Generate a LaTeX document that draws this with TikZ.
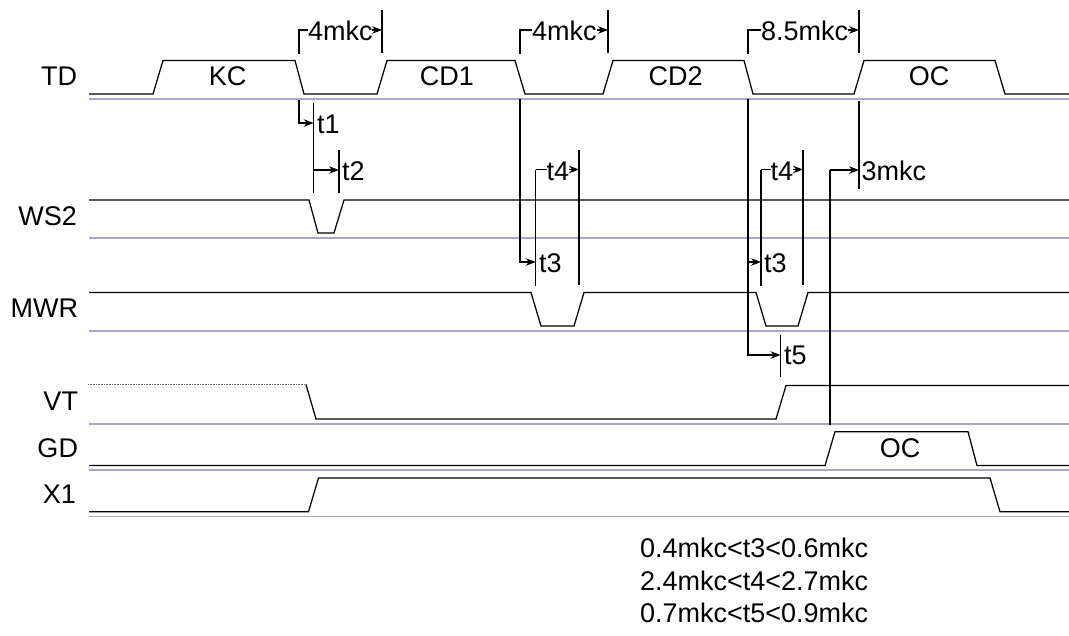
\documentclass[tikz,border=0pt]{standalone}
\usepackage{fontspec}
\setmainfont{Liberation Sans}
\usetikzlibrary{arrows.meta}
\definecolor{groundgray}{RGB}{168,168,198}
\tikzset{
  wave/.style={black,line width=1.25pt,line join=miter},
  ground/.style={draw=groundgray,line width=1.5pt},
  dim/.style={black,line width=1.25pt},
  dimarrow/.style={dim,-{Stealth[length=10pt,width=7.5pt]}},
  faint/.style={black!55,line width=0.6pt,densely dotted},
  lab/.style={anchor=base west,inner sep=0pt,outer sep=0pt,font=\fontsize{27}{27}\selectfont,text=black},
  labr/.style={lab,anchor=base east},
  labc/.style={lab,anchor=base},
}
\begin{document}
\begin{tikzpicture}[x=1pt,y=-1pt]
\useasboundingbox (0,0) rectangle (1069,635);
% baselines
\foreach \y in {99,238,331,424,470,516.5} \draw[ground] (89,\y) -- (1069,\y);
% signals
\draw[wave] (89,94) -- (153,94) -- (163,60.5) -- (295,60.5) -- (304,94) -- (377,94) -- (387,60.5) -- (515,60.5) -- (525,94) -- (603,94) -- (613,60.5) -- (744,60.5) -- (753,94) -- (854,94) -- (864,60.5) -- (995,60.5) -- (1005,94) -- (1069,94);
\draw[wave] (89,200) -- (309,200) -- (318,233) -- (334,233) -- (344,200) -- (1069,200);
\draw[wave] (89,292.5) -- (531,292.5) -- (541,326) -- (574,326) -- (584,292.5) -- (756,292.5) -- (766,326) -- (798,326) -- (808,292.5) -- (1069,292.5);
\draw[faint] (88,384.5) -- (306,384.5);
\draw[wave] (306,384.5) -- (316,419) -- (776,419) -- (786,385.5) -- (1069,385.5);
\draw[wave] (89,465.6) -- (825,465.6) -- (835,431.7) -- (968,431.7) -- (977,465.6) -- (1069,465.6);
\draw[wave] (89,511.7) -- (308.5,511.7) -- (318.5,478) -- (990,478) -- (1000,511.7) -- (1069,511.7);
% signal names
\node[labr] (nTD) at (77,85) {TD};
\node[labr] (nWS) at (77,225) {WS2};
\node[labr] (nMWR) at (78,317) {MWR};
\node[labr] (nVT) at (78,410) {VT};
\node[labr] (nGD) at (78,457) {GD};
\node[labr] (nX) at (76,503) {X1};
% pulse labels
\node[labc] (kc) at (227.7,85) {KC};
\node[labc] (cda) at (447,85) {CD1};
\node[labc] (cdb) at (675.7,85) {CD2};
\node[labc] (oca) at (929,85) {OC};
\node[labc] (ocb) at (900,457) {OC};
% tick marks
\coordinate (a1) at (382,10); \coordinate (a2) at (382,53);
\coordinate (b1) at (608,10); \coordinate (b2) at (608,53);
\coordinate (c1) at (859,10); \coordinate (c2) at (859,53);
\draw[dim] (a1) -- (a2);
\draw[dim] (b1) -- (b2);
\draw[dim] (c1) -- (c2);
\draw[dim] (859,101) -- (859,189);
\draw[dim] (313.7,103) -- (313.7,193);
\draw[dim] (339,150) -- (339,193);
\draw[dim] (579,150) -- (579,285);
\draw[dim] (803,150) -- (803,285);
\draw[dim] (761,169.5) -- (761,285.7);
\draw[dim] (535.7,169.5) -- (535.7,285.7);
\draw[dim] (780.5,335) -- (780.5,377);
% top dimensions
\node[lab] (d4a) at (308,40) {4mkc};
\node[lab] (d4b) at (532,40) {4mkc};
\node[lab] (d85) at (761,40) {8.5mkc};
\draw[dim] (299,54) -- (299,30) -- (308,30);
\draw[dimarrow] (372,30) -- (382,30);
\draw[dim] (520,54) -- (520,30) -- (532,30);
\draw[dimarrow] (597,30) -- (608,30);
\draw[dim] (748,54) -- (748,30) -- (761,30);
\draw[dimarrow] (848,30) -- (859,30);
% t1, t2
\draw[dimarrow] (299,100) -- (299,123) -- (313.7,123);
\node[lab] (t1) at (317,133) {t1};
\draw[dimarrow] (313.7,170) -- (339,170);
\node[lab] (t2) at (342,180) {t2};
% t3, t4 first group
\draw[dimarrow] (520,99) -- (520,262) -- (535.7,262);
\node[lab] (t3a) at (539,272.5) {t3};
\draw[dim] (535.7,169.5) -- (546.7,169.5);
\node[lab] (t4a) at (546.7,180) {t4};
\draw[dimarrow] (569,169.5) -- (579,169.5);
% t3, t4, t5 second group
\draw[dimarrow] (748,99) -- (748,355) -- (780.5,355);
\draw[dimarrow] (748,262) -- (761,262);
\node[lab] (t3b) at (764,272.5) {t3};
\draw[dim] (761,169.5) -- (771,169.5);
\node[lab] (t4b) at (770.7,180) {t4};
\draw[dimarrow] (793,169.5) -- (803,169.5);
\node[lab] (t5) at (784,364) {t5};
% 3mkc
\draw[dim] (830,425) -- (830,170);
\draw[dimarrow] (830,170) -- (859,170);
\node[lab] (m3) at (861.7,180) {3mkc};
% notes
\node[lab] (n1) at (640,557.7) {0.4mkc<t3<0.6mkc};
\node[lab] (n2) at (640,590) {2.4mkc<t4<2.7mkc};
\node[lab] (n3) at (640,622) {0.7mkc<t5<0.9mkc};
\end{tikzpicture}
\end{document}
